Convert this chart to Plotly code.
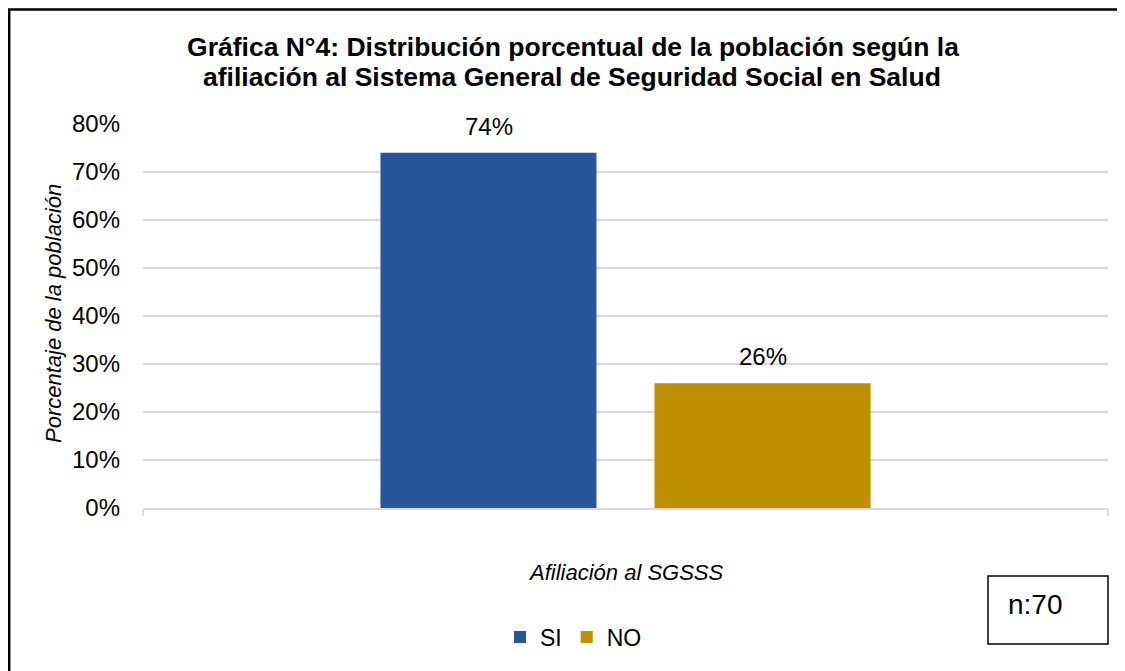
import plotly.graph_objects as go

# ---- data ----
series_names = ["SI", "NO"]
series_values = [0.74, 0.26]
series_colors = ["#26579A", "#BF9000"]
category = ["Afiliación al SGSSS"]
y_ticks = [0, 0.1, 0.2, 0.3, 0.4, 0.5, 0.6, 0.7, 0.8]
title_line1 = "Gráfica N°4: Distribución porcentual de la población según la"
title_line2 = "afiliación al Sistema General de Seguridad Social en Salud"
y_title = "Porcentaje de la población"
x_title = "Afiliación al SGSSS"
n_text = "n:70"

FONT = "Liberation Sans, Arial, sans-serif"

# figure sits at an 8px page offset; sizes chosen so it fits the window
W, H = 1117, 663
OFF = 8
L, T = 143 - OFF, 124 - OFF
R = W - (1108 - OFF)
B = H - (508 - OFF)
pw, ph = W - L - R, H - T - B


def px(xs):  # screen x -> paper
    return (xs - OFF - L) / pw


def py(ys):  # screen y -> paper
    return (H - B - (ys - OFF)) / ph


fig = go.Figure()
for name, val, col in zip(series_names, series_values, series_colors):
    fig.add_trace(go.Bar(
        x=category, y=[val], name=name, marker=dict(color=col, line=dict(width=0)),
        offsetgroup=name,
    ))

# data labels
n = len(series_names)
annotations = []
for i, (name, val) in enumerate(zip(series_names, series_values)):
    annotations.append(dict(
        x=category[0], y=val, xref="x", yref="y", text=f"{val*100:.0f}%",
        showarrow=False, yanchor="bottom", yshift=11,
        xshift=(i - (n - 1) / 2) * 274,
        font=dict(family=FONT, size=24, color="#000000"),
    ))

annotations.append(dict(
    x=px(571.5), y=py(77), xref="paper", yref="paper", text=f"<b>{title_line2}</b>",
    showarrow=False, xanchor="center", yanchor="middle",
    font=dict(family=FONT, size=26.5, color="#000000"),
))
annotations.append(dict(
    x=px(625.5), y=py(572), xref="paper", yref="paper", text=f"<i>{x_title}</i>",
    showarrow=False, xanchor="center", yanchor="middle",
    font=dict(family=FONT, size=22, color="#000000"),
))
annotations.append(dict(
    x=px(53), y=py(314), xref="paper", yref="paper", text=f"<i>{y_title}</i>",
    showarrow=False, xanchor="center", yanchor="middle", textangle=-90,
    font=dict(family=FONT, size=22, color="#000000"),
))
annotations.append(dict(
    x=px(1035.5), y=py(604), xref="paper", yref="paper", text=n_text,
    showarrow=False, xanchor="center", yanchor="middle",
    font=dict(family=FONT, size=28, color="#000000"),
))

fig.update_layout(
    width=W, height=H,
    margin=dict(l=L, r=R, t=T, b=B),
    paper_bgcolor="#FFFFFF", plot_bgcolor="#FFFFFF",
    font=dict(family=FONT, color="#000000"),
    title=dict(text=f"<b>{title_line1}</b>", x=(573 - OFF) / W, xanchor="center",
               y=1 - (47 - OFF) / H, yanchor="middle",
               font=dict(family=FONT, size=26.5, color="#000000")),
    barmode="group", bargap=0.432, bargroupgap=0.2117,
    showlegend=True,
    legend=dict(orientation="h", x=px(500), xanchor="left", y=py(637), yanchor="middle",
                font=dict(family=FONT, size=23, color="#000000"),
                tracegroupgap=0, bgcolor="rgba(0,0,0,0)"),
    annotations=annotations,
    shapes=[
        dict(type="rect", xref="paper", yref="paper",
             x0=px(9.2), x1=px(1140), y0=py(9.5), y1=py(700),
             line=dict(color="#000000", width=2.5), fillcolor="rgba(0,0,0,0)", layer="above"),
        dict(type="rect", xref="paper", yref="paper",
             x0=px(988), x1=px(1108), y0=py(576), y1=py(644),
             line=dict(color="#000000", width=1.5), fillcolor="rgba(0,0,0,0)", layer="above"),
    ],
)
fig.update_xaxes(
    showticklabels=False, showline=True, linecolor="#D9D9D9", linewidth=1.5,
    ticks="outside", tickson="boundaries", ticklen=6, tickcolor="#D9D9D9", tickwidth=1.5,
    showgrid=False, zeroline=False,
)
fig.update_yaxes(
    range=[0, 0.8], tickvals=y_ticks, tickformat=".0%",
    showgrid=True, gridcolor="#D9D9D9", gridwidth=1.5,
    zeroline=False, showline=False, ticks="", ticklabelstandoff=22,
    tickfont=dict(family=FONT, size=24, color="#000000"),
)

fig.write_html("out.html")
